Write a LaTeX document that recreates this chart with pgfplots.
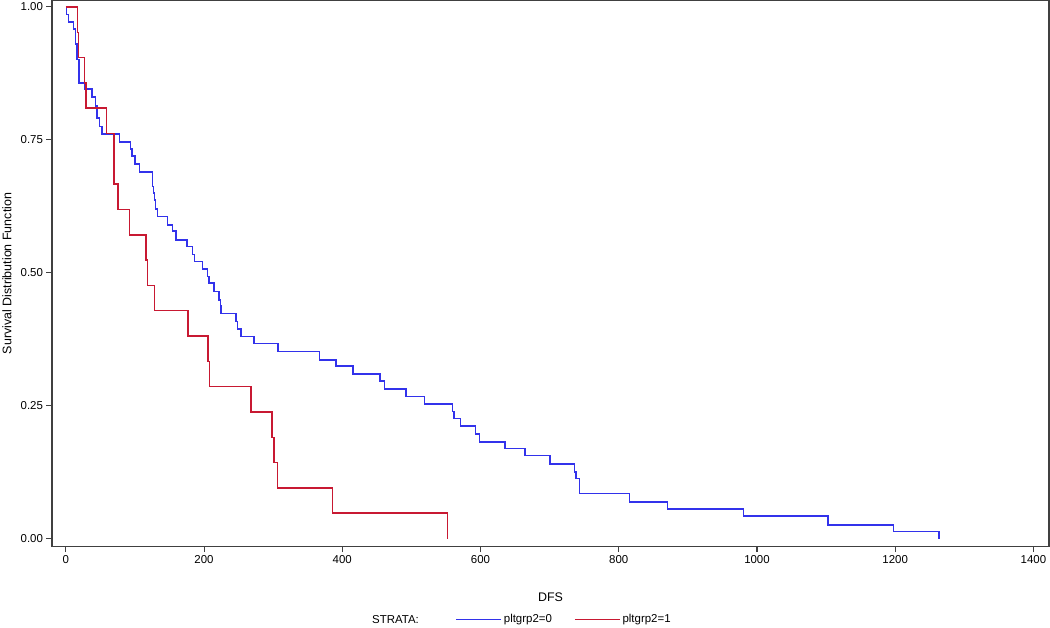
\documentclass[border=0pt]{standalone}
\usepackage{fontspec}
\setmainfont{Liberation Sans}
\usepackage{pgfplots}
\pgfplotsset{compat=1.18}

\definecolor{kmblue}{RGB}{50,50,235}
\definecolor{kmred}{RGB}{200,25,50}
\definecolor{axgray}{RGB}{64,64,64}

\begin{document}
\begin{tikzpicture}
\begin{axis}[
    name=ax,
    scale only axis,
    width=997bp, height=546bp,
    xmin=-20, xmax=1422.5,
    ymin=-0.015, ymax=1.012,
    axis line style={axgray, line width=1.3bp},
    xtick={0,200,...,1400},
    ytick={0,0.25,0.5,0.75,1},
    tick align=outside,
    xtick pos=bottom, ytick pos=left,
    major tick length=5.5bp,
    tick style={axgray, line width=1.1bp},
    /pgf/number format/assume math mode=true,
    /pgf/number format/1000 sep={},
    scaled ticks=false,
    yticklabel style={/pgf/number format/fixed,
        /pgf/number format/fixed zerofill,
        /pgf/number format/precision=2},
    tick label style={font=\fontsize{11.5}{13}\selectfont, black},
    xlabel={DFS},
    ylabel={Survival Distribution Function},
    label style={font=\fontsize{12.5}{14}\selectfont},
    xlabel style={at={(axis description cs:0.5,-0.0934)}, anchor=center},
    ylabel style={at={(axis description cs:-0.0451,0.5)}, anchor=center},
    legend columns=2,
    legend style={at={(axis description cs:0.5135,-0.1337)}, anchor=center,
        draw=none, fill=none, font=\fontsize{11.5}{13}\selectfont,
        /tikz/every even column/.append style={column sep=20bp}},
    legend image code/.code={\draw[#1] (0bp,0bp) -- (45bp,0bp);},
  ]
  % pltgrp2=0
  \addplot[kmblue, line width=1.6bp, const plot mark left] coordinates {
    (0,1.0) (1,0.986) (4,0.972) (11,0.958) (14,0.930) (16,0.901)
    (19,0.857) (27.2,0.845) (37.9,0.831) (42.7,0.814) (45,0.791)
    (48.9,0.775) (52.3,0.761) (77.9,0.746) (93.3,0.733) (95.7,0.719)
    (100.5,0.705) (106.8,0.689) (125.5,0.662) (127,0.650) (128.5,0.637)
    (130,0.620) (132.8,0.606) (147.3,0.590) (154.5,0.578) (159.4,0.562)
    (175.7,0.549) (183.4,0.534) (185.9,0.521) (197.9,0.507) (204.7,0.493)
    (207.5,0.481) (214.8,0.465) (222,0.449) (223.5,0.437) (224.9,0.423)
    (246.2,0.408) (248.1,0.394) (253.4,0.380) (272,0.367) (306.7,0.352)
    (367,0.336) (391,0.324) (415.3,0.310) (454.9,0.296) (461.1,0.281)
    (492,0.267) (519,0.253) (559.4,0.239) (561.9,0.226) (571,0.212)
    (593,0.197) (598.3,0.182) (635.7,0.169) (664.6,0.156) (700.7,0.140)
    (735.9,0.125) (737.9,0.113) (743.1,0.085) (815.4,0.069) (870.4,0.056)
    (980.3,0.042) (1102.4,0.026) (1197.3,0.013) (1263.4,0.0)
  };
  \addlegendentry{pltgrp2=0}
  % pltgrp2=1
  \addplot[kmred, line width=1.6bp, const plot mark left] coordinates {
    (0,1.0) (17.1,0.952) (18.5,0.905) (27.2,0.857) (29.6,0.810)
    (58.6,0.762) (70.1,0.667) (75.5,0.619) (92.3,0.571) (116,0.524)
    (118.3,0.476) (128.4,0.429) (177.2,0.381) (206.1,0.333) (208,0.286)
    (267.9,0.238) (298.2,0.190) (301.1,0.143) (306.4,0.095) (385.9,0.048)
    (552.2,0.0)
  };
  \addlegendentry{pltgrp2=1}
\end{axis}
\node[anchor=west, font=\fontsize{11.5}{13}\selectfont, inner sep=0pt]
  at ([xshift=320bp,yshift=-73bp]ax.south west) {STRATA:};
\pgfresetboundingbox
\path ([xshift=-52bp,yshift=-80.5bp]ax.south west) rectangle ([xshift=1bp,yshift=0.5bp]ax.north east);
\end{tikzpicture}
\end{document}
